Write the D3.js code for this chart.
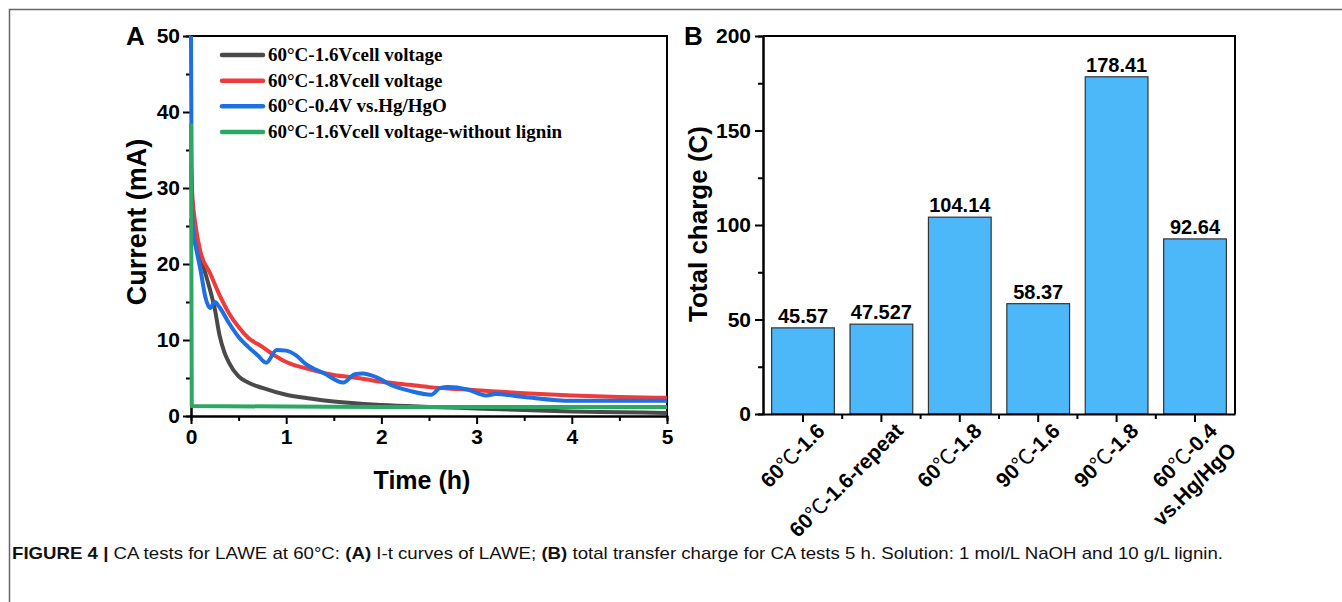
<!DOCTYPE html>
<html>
<head>
<meta charset="utf-8">
<script src="https://cdn.jsdelivr.net/npm/d3@7"></script>
<style>
  body { margin: 0; background: #fff; }
  svg { display: block; }
  .tick text { font-family: "Liberation Sans", Arial, sans-serif; font-weight: bold; font-size: 21px; fill: #000; }
  .domain, .tick line { stroke: #000; stroke-width: 2px; }
  .title { font-family: "Liberation Sans", Arial, sans-serif; font-weight: bold; font-size: 25px; fill: #000; }
</style>
</head>
<body>
<script>
// ---- panel A : I-t curves ----
var seriesNames = ["60°C-1.6Vcell voltage", "60°C-1.8Vcell voltage", "60°C-0.4V vs.Hg/HgO", "60°C-1.6Vcell voltage-without lignin"];
var seriesColors = ["#4a4a4a", "#ee3b3b", "#1e6fe3", "#2aa864"];

var timeGray = [0, 0.02, 0.05, 0.1, 0.15, 0.2, 0.25, 0.3, 0.35, 0.4, 0.5, 0.6, 0.75, 1, 1.25, 1.5, 2, 2.5, 3, 3.5, 4, 4.5, 5];
var currGray = [26, 24, 22.5, 20.9, 18.8, 16.6, 14.1, 10.6, 8.4, 7.0, 5.2, 4.4, 3.7, 2.8, 2.3, 1.9, 1.45, 1.2, 1.0, 0.8, 0.6, 0.5, 0.4];

var timeRed = [0, 0.01, 0.05, 0.1, 0.2, 0.3, 0.4, 0.5, 0.6, 0.75, 0.9, 1.0, 1.2, 1.5, 1.75, 2, 2.3, 2.5, 3, 3.5, 4, 4.5, 5];
var currRed = [33, 30, 24.9, 21.6, 18.8, 15.9, 13.5, 11.7, 10.3, 9.1, 7.8, 7.1, 6.3, 5.4, 5.0, 4.5, 4.1, 3.8, 3.4, 3.0, 2.7, 2.5, 2.4];

var timeBlue = [0, 0.005, 0.02, 0.05, 0.1, 0.15, 0.2, 0.25, 0.3, 0.4, 0.5, 0.6, 0.7, 0.79, 0.9, 1.0, 1.1, 1.2, 1.4, 1.6, 1.72, 1.8, 1.95, 2.1, 2.3, 2.52, 2.62, 2.7, 2.9, 3.1, 3.2, 3.5, 4, 4.5, 5];
var currBlue = [50, 35, 24.5, 22.3, 19.2, 15.7, 14.2, 15.0, 14.3, 12.2, 10.4, 9.1, 8.0, 7.0, 8.7, 8.6, 8.0, 6.9, 5.6, 4.4, 5.5, 5.6, 5.1, 4.1, 3.3, 2.8, 3.7, 3.8, 3.5, 2.7, 2.9, 2.5, 2.0, 2.0, 2.0];

var timeGreen = [0, 0.008, 1, 2, 3, 4, 5];
var currGreen = [38.5, 1.3, 1.25, 1.2, 1.2, 1.2, 1.2];

var timeTicks = [0, 1, 2, 3, 4, 5];
var currentTicks = [0, 10, 20, 30, 40, 50];

// ---- panel B : total charge ----
var chargeCats = ["60℃-1.6", "60℃-1.6-repeat", "60℃-1.8", "90℃-1.6", "90℃-1.8", "60℃-0.4\nvs.Hg/HgO"];
var chargeVals = [45.57, 47.527, 104.14, 58.37, 178.41, 92.64];
var chargeLabels = ["45.57", "47.527", "104.14", "58.37", "178.41", "92.64"];
var chargeTicks = [0, 50, 100, 150, 200];

var svg = d3.select("body").append("svg")
    .attr("width", 1342)
    .attr("height", 602);

// figure frame (top + left)
svg.append("path")
    .attr("d", "M9.5,602 V9.5 H1342")
    .attr("fill", "none")
    .attr("stroke", "#666")
    .attr("stroke-width", 1.5);

// ===== panel A =====
var xA = d3.scaleLinear().domain([0, 5]).range([191, 667]);
var yA = d3.scaleLinear().domain([0, 50]).range([416, 36]);

var gA = svg.append("g");

gA.append("g").attr("transform", "translate(0,416)")
    .call(d3.axisBottom(xA).tickValues(d3.range(0.5, 5, 1)).tickSize(5).tickFormat(""));
gA.append("g").attr("transform", "translate(191,0)")
    .call(d3.axisLeft(yA).tickValues(d3.range(5, 50, 10)).tickSize(5).tickFormat(""));

gA.append("g").attr("transform", "translate(0,416)")
    .call(d3.axisBottom(xA).tickValues(timeTicks).tickFormat(d3.format("d")).tickSize(8).tickPadding(5).tickSizeOuter(0));
gA.append("g").attr("transform", "translate(191,0)")
    .call(d3.axisLeft(yA).tickValues(currentTicks).tickSize(8).tickPadding(3).tickSizeOuter(0));

// top & right frame
gA.append("path").attr("d", "M191,36 H667 V416").attr("fill", "none").attr("stroke", "#000").attr("stroke-width", 2);

var series = [
    { t: timeGray, v: currGray },
    { t: timeRed, v: currRed },
    { t: timeBlue, v: currBlue },
    { t: timeGreen, v: currGreen }
];

var line = d3.line()
    .x(function(d) { return xA(d[0]); })
    .y(function(d) { return yA(d[1]); })
    .curve(d3.curveMonotoneX);

gA.selectAll(".curve")
    .data(series)
    .enter().append("path")
    .attr("class", "curve")
    .attr("fill", "none")
    .attr("stroke", function(d, i) { return seriesColors[i]; })
    .attr("stroke-width", 4)
    .attr("stroke-linejoin", "round")
    .attr("d", function(d) { return line(d3.zip(d.t, d.v)); });

// legend
var legY = d3.scalePoint().domain(d3.range(4)).range([55, 132]);
var leg = gA.selectAll(".leg")
    .data(seriesNames)
    .enter().append("g")
    .attr("class", "leg")
    .attr("transform", function(d, i) { return "translate(222," + legY(i) + ")"; });
leg.append("line")
    .attr("x1", 0).attr("x2", 41)
    .attr("stroke", function(d, i) { return seriesColors[i]; })
    .attr("stroke-width", 4.5)
    .attr("stroke-linecap", "round");
leg.append("text")
    .attr("x", 46).attr("y", 6)
    .style("font-family", "'Liberation Serif', 'Times New Roman', serif")
    .style("font-weight", "bold")
    .style("font-size", "19px")
    .text(function(d) { return d; });

gA.append("text").attr("class", "title").style("font-size", "26px")
    .attr("x", 126).attr("y", 45).text("A");
gA.append("text").attr("class", "title")
    .attr("x", 422).attr("y", 489).attr("text-anchor", "middle").text("Time (h)");
gA.append("text").attr("class", "title")
    .attr("transform", "translate(146,222) rotate(-90)")
    .attr("text-anchor", "middle").style("font-size", "27px").text("Current (mA)");

// ===== panel B =====
var xB = d3.scaleBand().domain(chargeCats).range([763, 1235]).paddingInner(0.2).paddingOuter(0.11);
var yB = d3.scaleLinear().domain([0, 200]).range([414, 36]);

var gB = svg.append("g");

gB.selectAll(".bar")
    .data(chargeVals)
    .enter().append("rect")
    .attr("class", "bar")
    .attr("x", function(d, i) { return xB(chargeCats[i]); })
    .attr("y", function(d) { return yB(d); })
    .attr("width", xB.bandwidth())
    .attr("height", function(d) { return yB(0) - yB(d); })
    .attr("fill", "#4cb8f9")
    .attr("stroke", "#333")
    .attr("stroke-width", 1.2);

gB.selectAll(".val")
    .data(chargeVals)
    .enter().append("text")
    .attr("class", "val")
    .attr("x", function(d, i) { return xB(chargeCats[i]) + xB.bandwidth() / 2; })
    .attr("y", function(d) { return yB(d) - 5; })
    .attr("text-anchor", "middle")
    .style("font-family", "'Liberation Sans', Arial, sans-serif")
    .style("font-weight", "bold")
    .style("font-size", "20px")
    .text(function(d, i) { return chargeLabels[i]; });

// minor ticks between bars
var bounds = chargeCats.slice(0, -1).map(function(c) {
    return xB(c) + xB.bandwidth() + xB.step() * xB.paddingInner() / 2;
});
gB.selectAll(".mtick")
    .data(bounds)
    .enter().append("line")
    .attr("x1", function(d) { return d; }).attr("x2", function(d) { return d; })
    .attr("y1", 414).attr("y2", 419)
    .attr("stroke", "#000").attr("stroke-width", 2);

gB.append("g").attr("transform", "translate(0,414)")
    .call(d3.axisBottom(xB).tickSize(8).tickSizeOuter(0).tickFormat(""));
gB.append("g").attr("transform", "translate(763,0)")
    .call(d3.axisLeft(yB).tickValues(d3.range(25, 200, 50)).tickSize(5).tickFormat(""));
gB.append("g").attr("transform", "translate(763,0)")
    .call(d3.axisLeft(yB).tickValues(chargeTicks).tickSize(8).tickPadding(4).tickSizeOuter(0));
gB.append("path").attr("d", "M763,36 H1235 V414").attr("fill", "none").attr("stroke", "#000").attr("stroke-width", 2);

// rotated category labels
var catG = gB.selectAll(".cat")
    .data(chargeCats)
    .enter().append("text")
    .attr("class", "cat")
    .attr("transform", function(d) { return "translate(" + (xB(d) + xB.bandwidth() / 2 + 12) + ",421) rotate(-45)"; })
    .attr("text-anchor", "end")
    .style("font-family", "'Liberation Sans', Arial, sans-serif")
    .style("font-weight", "bold")
    .style("font-size", "21px");

catG.each(function(d) {
    var el = d3.select(this);
    d.split("\n").forEach(function(row, r) {
        var parts = row.split("℃");
        var ts = el.append("tspan").attr("x", 0).attr("dy", r === 0 ? "0.75em" : "1.3em");
        ts.text(parts[0]);
        if (parts.length > 1) {
            el.append("tspan")
                .style("font-family", "'Noto Sans CJK SC', 'DejaVu Sans', sans-serif")
                .style("font-weight", "normal")
                .text("℃");
            el.append("tspan").text(parts[1]);
        }
    });
});

gB.append("text").attr("class", "title").style("font-size", "26px")
    .attr("x", 684).attr("y", 45).text("B");
gB.append("text").attr("class", "title")
    .attr("transform", "translate(707,224) rotate(-90)")
    .attr("text-anchor", "middle").style("font-size", "26px").text("Total charge (C)");

// caption
var cap = svg.append("text")
    .attr("x", 12).attr("y", 559)
    .attr("textLength", 1211)
    .attr("lengthAdjust", "spacingAndGlyphs")
    .style("font-family", "'Liberation Sans', Arial, sans-serif")
    .style("font-size", "17px")
    .attr("fill", "#111");
cap.append("tspan").style("font-weight", "bold").text("FIGURE 4 | ");
cap.append("tspan").text("CA tests for LAWE at 60°C: ");
cap.append("tspan").style("font-weight", "bold").text("(A)");
cap.append("tspan").text(" I-t curves of LAWE; ");
cap.append("tspan").style("font-weight", "bold").text("(B)");
cap.append("tspan").text(" total transfer charge for CA tests 5 h. Solution: 1 mol/L NaOH and 10 g/L lignin.");
</script>
</body>
</html>
